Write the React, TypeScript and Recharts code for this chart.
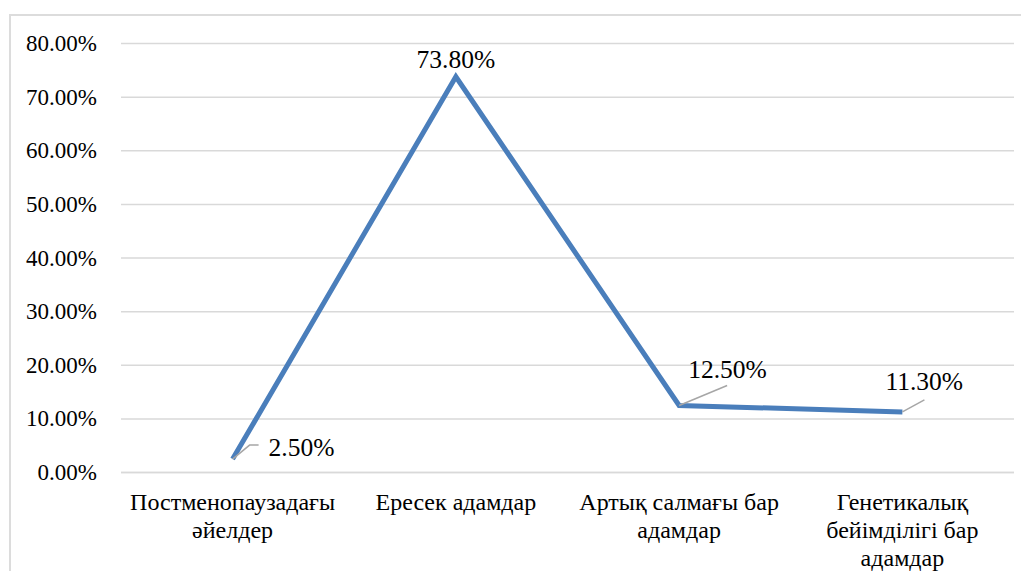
import { LineChart, Line, XAxis, YAxis, CartesianGrid, LabelList } from "recharts"

const categories = [
  "Постменопаузадағы\nәйелдер",
  "Ересек адамдар",
  "Артық салмағы бар\nадамдар",
  "Генетикалық\nбейімділігі бар\nадамдар",
]
const shares = [2.5, 73.8, 12.5, 11.3]
const yTicks = [0, 10, 20, 30, 40, 50, 60, 70, 80]

const data = categories.map((name, i) => ({ name, value: shares[i] }))

const FONT = "Liberation Serif, Times New Roman, serif"
const textStyle = { fontFamily: FONT, fill: "#000" }

// hand placed labels like in the original sheet (leader line end, text start, text center)
const labelPos = [
  { lead: [[17, -14], [26, -14]], tx: 36, ty: -12, anchor: "start" },
  { lead: null, tx: 0, ty: -17, anchor: "middle" },
  { lead: [[48, -20]], tx: 9, ty: -36, anchor: "start" },
  { lead: [[22, -12]], tx: -17, ty: -30, anchor: "start" },
]

function PointLabel(props: any) {
  const { x, y, value, index } = props
  const p = labelPos[index]
  let path = ""
  if (p.lead) {
    path = `M${x},${y}` + p.lead.map((q: number[]) => ` L${x + q[0]},${y + q[1]}`).join("")
  }
  return (
    <g>
      {path && <path d={path} stroke="#a6a6a6" strokeWidth={1.5} fill="none" />}
      <text
        x={x + p.tx}
        y={y + p.ty}
        textAnchor={p.anchor}
        dominantBaseline="central"
        style={{ ...textStyle, fontSize: 25.5 }}
      >
        {Number(value).toFixed(2)}%
      </text>
    </g>
  )
}

function CategoryTick(props: any) {
  const { x, y, payload } = props
  const lines = String(payload.value).split("\n")
  return (
    <text x={x} y={y} textAnchor="middle" style={{ ...textStyle, fontSize: 24 }}>
      {lines.map((l, i) => (
        <tspan key={i} x={x} dy={i === 0 ? 37 : 28}>
          {l}
        </tspan>
      ))}
    </text>
  )
}

function PercentTick(props: any) {
  const { x, y, payload } = props
  return (
    <text x={x} y={y} textAnchor="end" dominantBaseline="central" style={{ ...textStyle, fontSize: 23 }}>
      {Number(payload.value).toFixed(2)}%
    </text>
  )
}

export default function App() {
  return (
    <div style={{ position: "relative", width: 1021, height: 571, overflow: "hidden", marginBottom: -8 }}>
      <div
        style={{
          position: "absolute",
          left: 1,
          top: 6,
          width: 1100,
          height: 700,
          border: "2px solid #dcdcdc",
        }}
      />
      <div style={{ position: "absolute", left: 0, top: 0 }}>
        <LineChart
          width={1021}
          height={571}
          data={data}
          margin={{ top: 35.5, right: 15, left: 0, bottom: 6.5 }}
        >
          <CartesianGrid vertical={false} stroke="#d9d9d9" strokeWidth={1.5} />
          <XAxis
            dataKey="name"
            height={100}
            padding={{ left: 111.6, right: 111.6 }}
            axisLine={{ stroke: "#d9d9d9", strokeWidth: 1.5 }}
            tickLine={false}
            tickSize={0}
            tickMargin={0}
            interval={0}
            tick={<CategoryTick />}
          />
          <YAxis
            width={113}
            domain={[0, 80]}
            ticks={yTicks}
            axisLine={false}
            tickLine={false}
            tickSize={0}
            tickMargin={24}
            tick={<PercentTick />}
          />
          <Line
            type="linear"
            dataKey="value"
            stroke="#4a7ebb"
            strokeWidth={5}
            dot={false}
            activeDot={false}
            isAnimationActive={false}
          >
            <LabelList dataKey="value" content={<PointLabel />} />
          </Line>
        </LineChart>
      </div>
    </div>
  )
}
